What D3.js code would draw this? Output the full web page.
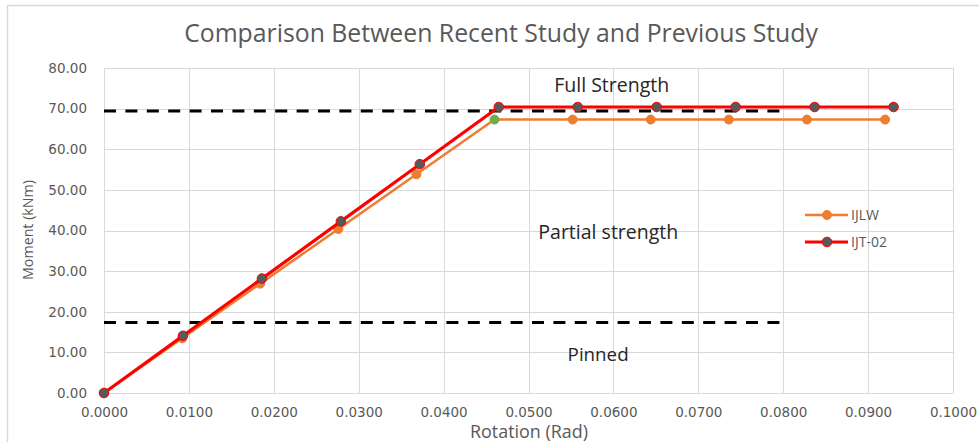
<!DOCTYPE html>
<html><head><meta charset="utf-8">
<script src="https://cdn.jsdelivr.net/npm/d3@7"></script>
<style>body{margin:0;background:#fff}svg{display:block}</style>
</head><body>
<svg id="c" width="979" height="442"></svg>
<script>
// ---- data ----
const seriesNames = ["IJLW", "IJT-02"];
const rotIJLW = [0, 0.0092, 0.0184, 0.0276, 0.0368, 0.0460, 0.0552, 0.0644, 0.0736, 0.0828, 0.0920];
const momIJLW = [0, 13.46, 26.92, 40.38, 53.84, 67.30, 67.30, 67.30, 67.30, 67.30, 67.30];
const rotIJT = [0, 0.0093, 0.0186, 0.0279, 0.0372, 0.0465, 0.0558, 0.0651, 0.0744, 0.0837, 0.0930];
const momIJT = [0, 14.08, 28.16, 42.24, 56.32, 70.40, 70.40, 70.40, 70.40, 70.40, 70.40];
const limitNames = ["Full Strength", "Pinned"];
const limitValues = [69.4, 17.35];
const limitRotEnd = [0.08, 0.08];
const regionLabels = ["Full Strength", "Partial strength", "Pinned"];
const regionY = [75.3, 39.1, 9.1];
const regionX = [0.0598, 0.0594, 0.0582];
const xTicks = [0, 0.01, 0.02, 0.03, 0.04, 0.05, 0.06, 0.07, 0.08, 0.09, 0.10];
const yTicks = [0, 10, 20, 30, 40, 50, 60, 70, 80];
const title = "Comparison Between Recent Study and Previous Study";
const xTitle = "Rotation (Rad)";
const yTitle = "Moment (kNm)";

const svg = d3.select("#c");
const L = 104, R = 953, T = 68, B = 393;
const x = d3.scaleLinear().domain([0, 0.1]).range([L, R]);
const y = d3.scaleLinear().domain([0, 80]).range([B, T]);
const grey = "#595959", gridC = "#d9d9d9";
const sans = "Open Sans, sans-serif";

// fit text to a target width by scaling font size
function fit(sel, target) {
  sel.each(function () {
    const w = this.getComputedTextLength();
    const fs = parseFloat(this.getAttribute("font-size"));
    if (w > 0) this.setAttribute("font-size", (fs * target / w).toFixed(2));
  });
}

// chart border
svg.append("rect").attr("x", 7.5).attr("y", 5.5).attr("width", 990).attr("height", 460)
  .attr("fill", "none").attr("stroke", gridC).attr("stroke-width", 1.5);

// gridlines
svg.append("g").selectAll("line").data(yTicks).join("line")
  .attr("x1", L).attr("x2", R).attr("y1", d => Math.round(y(d)) + 0.5).attr("y2", d => Math.round(y(d)) + 0.5)
  .attr("stroke", gridC).attr("stroke-width", 1);
svg.append("g").selectAll("line").data(xTicks).join("line")
  .attr("y1", T).attr("y2", B).attr("x1", d => Math.round(x(d)) + 0.5).attr("x2", d => Math.round(x(d)) + 0.5)
  .attr("stroke", gridC).attr("stroke-width", 1);

// axes tick labels via d3 axes
const fontTick = "DejaVu Sans, Verdana, sans-serif";
const ax = svg.append("g").attr("transform", `translate(0,${B})`)
  .call(d3.axisBottom(x).tickValues(xTicks).tickFormat(d3.format(".4f")).tickSize(0).tickPadding(14));
ax.select(".domain").remove();
ax.selectAll("text").attr("fill", grey).attr("font-family", fontTick).attr("font-size", 13.5);
const ay = svg.append("g").attr("transform", `translate(${L},0)`)
  .call(d3.axisLeft(y).tickValues(yTicks).tickFormat(d3.format(".2f")).tickSize(0).tickPadding(17));
ay.select(".domain").remove();
ay.selectAll("text").attr("fill", grey).attr("font-family", fontTick).attr("font-size", 13.5);

// limit dashed lines
svg.append("g").selectAll("line").data(limitValues).join("line")
  .attr("x1", x(0)).attr("x2", (d, i) => x(limitRotEnd[i]))
  .attr("y1", d => y(d)).attr("y2", d => y(d))
  .attr("stroke", "#000").attr("stroke-width", 3).attr("stroke-dasharray", "12,9.4");

// series
const ser = [
  { name: seriesNames[0], xs: rotIJLW, ys: momIJLW, color: "#ed7d31", w: 2.5, mfill: "#ed7d31", mstroke: "#ed7d31", r: 4.5 },
  { name: seriesNames[1], xs: rotIJT, ys: momIJT, color: "#ff0000", w: 3.2, mfill: "#595959", mstroke: "#ff0000", r: 4.8 }
];
const line = d3.line().x(d => x(d[0])).y(d => y(d[1]));
ser.forEach(s => {
  const pts = s.xs.map((v, i) => [v, s.ys[i]]);
  svg.append("path").datum(pts).attr("d", line).attr("fill", "none")
    .attr("stroke", s.color).attr("stroke-width", s.w).attr("stroke-linejoin", "round");
  svg.append("g").selectAll("circle").data(pts).join("circle")
    .attr("cx", d => x(d[0])).attr("cy", d => y(d[1])).attr("r", s.r)
    .attr("fill", (d, i) => (s.name === "IJLW" && i === 5) ? "#70ad47" : s.mfill)
    .attr("stroke", (d, i) => (s.name === "IJLW" && i === 5) ? "#70ad47" : s.mstroke)
    .attr("stroke-width", 1);
});

// region labels
const regionW = [115, 140, 61];
const rl = svg.append("g").selectAll("text").data(regionLabels).join("text")
  .attr("x", (d, i) => x(regionX[i])).attr("y", (d, i) => y(regionY[i]))
  .attr("text-anchor", "middle").attr("dominant-baseline", "middle")
  .attr("font-family", sans).attr("font-size", 16).attr("fill", "#262626")
  .text(d => d);
rl.each(function (d, i) { fit(d3.select(this), regionW[i]); });

// title
const tt = svg.append("text").attr("x", 501).attr("y", 42).attr("text-anchor", "middle")
  .attr("font-family", sans).attr("font-size", 20).attr("fill", grey)
  .text(title);
fit(tt, 634);

// axis titles
const xt = svg.append("text").attr("x", 529).attr("y", 438).attr("text-anchor", "middle")
  .attr("font-family", sans).attr("font-size", 14).attr("fill", grey).text(xTitle);
fit(xt, 118);
const yt = svg.append("text").attr("transform", "translate(33,230) rotate(-90)").attr("text-anchor", "middle")
  .attr("font-family", sans).attr("font-size", 14).attr("fill", grey).text(yTitle);
fit(yt, 100);

// legend
const lg = svg.append("g").selectAll("g").data(ser).join("g")
  .attr("transform", (d, i) => `translate(805,${215 + i * 27})`);
lg.append("line").attr("x1", 0).attr("x2", 43).attr("y1", 0).attr("y2", 0)
  .attr("stroke", d => d.color).attr("stroke-width", d => d.w);
lg.append("circle").attr("cx", 22).attr("cy", 0).attr("r", d => d.r)
  .attr("fill", d => d.mfill).attr("stroke", d => d.mstroke);
lg.append("text").attr("x", 46).attr("y", 1).attr("dominant-baseline", "middle")
  .attr("font-family", sans).attr("font-size", 14).attr("fill", grey)
  .text(d => d.name);
</script>
</body></html>
